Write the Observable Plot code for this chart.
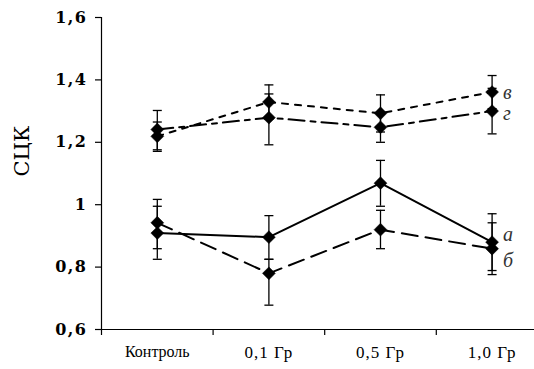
<!DOCTYPE html>
<html><head><meta charset="utf-8">
<script src="https://cdn.jsdelivr.net/npm/d3@7"></script>
<script src="https://cdn.jsdelivr.net/npm/@observablehq/plot@0.6"></script>
<style>
body{margin:0;background:#fff;}
svg{font-family:"DejaVu Serif",serif;}
g[aria-label="y-axis tick label"] text{letter-spacing:1.5px;}
g[aria-label="x-axis tick label"] text:not(:first-child){letter-spacing:1px;font-size:17px;}
</style>
</head><body><div id="chart"></div>
<script>
const categories = ["Контроль", "0,1 Гр", "0,5 Гр", "1,0 Гр"];
const seriesNames = ["а", "б", "в", "г"];
const valA = [0.909, 0.896, 1.069, 0.880];
const loA  = [0.825, 0.825, 0.995, 0.789];
const hiA  = [0.995, 0.965, 1.142, 0.971];
const valB = [0.942, 0.780, 0.920, 0.859];
const loB  = [0.859, 0.678, 0.859, 0.776];
const hiB  = [1.017, 0.825, 0.982, 0.942];
const valV = [1.219, 1.329, 1.293, 1.361];
const loV  = [1.171, 1.274, 1.233, 1.308];
const hiV  = [1.265, 1.384, 1.352, 1.414];
const valG = [1.241, 1.279, 1.248, 1.300];
const loG  = [1.176, 1.192, 1.200, 1.227];
const hiG  = [1.302, 1.355, 1.296, 1.373];
const yTicks = [0.6, 0.8, 1.0, 1.2, 1.4, 1.6];
const yTitle = "СЦК";

const all = [[valA,loA,hiA],[valB,loB,hiB],[valV,loV,hiV],[valG,loG,hiG]];
const data = [];
all.forEach(([v,lo,hi], s) => v.forEach((y,i) => data.push({s: seriesNames[s], i, y, lo: lo[i], hi: hi[i]})));

const dashes = {"а": null, "б": "16,8", "в": "6,7", "г": "16,6,5,6"};
const labelDy = {"а": -8, "б": 12, "в": 1, "г": 2};
const capSymbol = {draw(ctx, size){ const w = Math.sqrt(size/Math.PI); ctx.moveTo(-w,0); ctx.lineTo(w,0); }};

const marks = [];
for (const s of seriesNames) {
  marks.push(Plot.line(data.filter(d => d.s === s), {x: "i", y: "y", stroke: "#000", strokeWidth: 2, strokeDasharray: dashes[s] ?? undefined}));
}
marks.push(
  Plot.ruleX(data, {x: "i", y1: "lo", y2: "hi", stroke: "#000", strokeWidth: 1.3}),
  Plot.dot(data, {x: "i", y: "lo", symbol: capSymbol, r: 4.5, stroke: "#000", strokeWidth: 1.3}),
  Plot.dot(data, {x: "i", y: "hi", symbol: capSymbol, r: 4.5, stroke: "#000", strokeWidth: 1.3}),
  Plot.dot(data, {x: "i", y: "y", symbol: "diamond2", r: 5.8, fill: "#000", stroke: "#000", strokeWidth: 0.5})
);
for (const s of seriesNames) {
  marks.push(Plot.text(data.filter(d => d.s === s && d.i === 3), {x: "i", y: "y", text: "s", dx: 11, dy: labelDy[s], textAnchor: "start", fontSize: 20, fontStyle: "italic", fontFamily: "Liberation Serif", fill: "#333"}));
}
marks.push(
  Plot.ruleY([0.6], {x1: -0.5, x2: 3.38, stroke: "#000", strokeWidth: 1.2}),
  Plot.ruleX([-0.5], {y1: 0.6, y2: 1.6, stroke: "#000", strokeWidth: 1.2}),
  Plot.axisX({ticks: [-0.5, 0.5, 1.5, 2.5], tickSize: 6, tickFormat: () => "", label: null, strokeWidth: 1.2}),
  Plot.axisX({ticks: [0, 1, 2, 3], tickSize: 0, tickPadding: 16, tickFormat: i => categories[i], label: null, fontSize: 16, fontFamily: "Liberation Serif"}),
  Plot.axisY({ticks: yTicks, tickSize: 6, tickPadding: 8, tickFormat: v => v === 1 ? "1" : d3.format(".1f")(v).replace(".", ","), label: null, fontSize: 16, fontWeight: "bold", strokeWidth: 1.2}),
  Plot.text([yTitle], {frameAnchor: "left", text: d => d, rotate: -90, dx: -79, dy: 3, fontSize: 21, fontFamily: "DejaVu Serif", fill: "#000"})
);

const chart = Plot.plot({
  width: 534, height: 369,
  marginLeft: 101, marginRight: 0, marginTop: 17, marginBottom: 40,
  x: {type: "linear", domain: [-0.5, 3.38]},
  y: {domain: [0.6, 1.6]},
  style: {fontSize: "16px", color: "#000", background: "#fff"},
  marks
});
document.getElementById("chart").appendChild(chart);
</script>
</body></html>
